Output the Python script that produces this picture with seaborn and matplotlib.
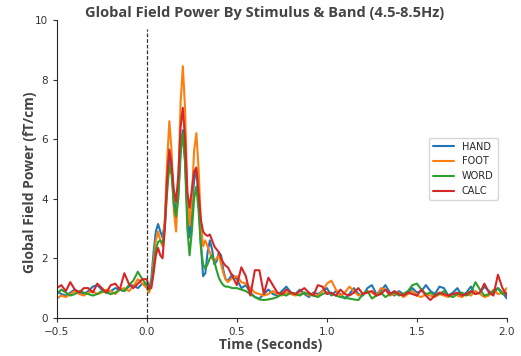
import numpy as np
import pandas as pd
import matplotlib
matplotlib.use("Agg")
import matplotlib.pyplot as plt
import seaborn as sb

# time axis: coarse before/after, finer around the evoked peaks
time = np.concatenate([np.arange(-0.5, -0.001, 0.025),
                       np.arange(0.0, 0.449, 0.0125),
                       np.arange(0.45, 2.001, 0.025)])

stimuli = ["HAND", "FOOT", "WORD", "CALC"]

hand = [0.9, 0.8, 0.75, 0.85, 0.95, 0.85, 0.8, 0.9, 1.05, 1.1,
        0.95, 0.85, 0.9, 1.0, 0.95, 0.9, 1.05, 1.1, 1.0, 1.15,
        1.1, 0.95, 1.3, 2.2, 2.9, 3.15, 2.9, 2.7, 3.2, 4.5,
        5.5, 5.0, 4.0, 3.6, 4.2, 5.6, 6.3, 5.3, 3.5, 2.7,
        3.5, 4.6, 5.0, 4.0, 2.5, 1.4, 1.5, 2.2, 2.6, 2.3,
        1.8, 1.9, 2.2, 2.1, 1.6, 1.3,
        1.25, 1.45, 1.3, 1.0, 1.1, 0.85, 0.7, 0.65, 0.8, 0.95,
        0.8, 0.75, 0.9, 1.05, 0.85, 0.8, 0.95, 0.8, 0.7, 0.85,
        0.8, 0.9, 1.0, 0.75, 0.9, 0.8, 0.65, 0.8, 1.0, 0.8,
        0.75, 1.0, 1.1, 0.8, 0.9, 1.1, 0.85, 0.75, 0.9, 0.8,
        0.85, 1.0, 0.85, 0.9, 1.1, 0.9, 0.8, 1.05, 1.0, 0.75,
        0.85, 1.0, 0.75, 0.85, 1.05, 0.8, 0.85, 1.05, 0.9, 0.8,
        1.0, 0.85, 0.65]

foot = [0.65, 0.75, 0.7, 0.8, 0.9, 0.8, 0.75, 0.85, 0.9, 0.8,
        0.85, 0.95, 0.9, 0.8, 0.95, 1.0, 0.9, 1.05, 1.3, 1.15,
        1.0, 0.85, 1.1, 1.9, 2.6, 2.9, 2.6, 2.4, 3.3, 5.2,
        6.6, 5.6, 3.6, 2.9, 4.5, 7.2, 8.45, 7.0, 4.2, 3.1,
        4.0, 5.6, 6.2, 5.0, 3.2, 2.4, 2.6, 2.4, 2.2, 2.0,
        1.9, 2.0, 2.1, 1.8, 1.5, 1.3,
        1.2, 1.35, 1.4, 1.2, 1.15, 1.0, 0.85, 0.8, 0.75, 0.8,
        0.9, 0.8, 0.75, 0.85, 0.8, 0.75, 0.8, 0.85, 0.75, 0.8,
        0.75, 0.9, 1.15, 1.25, 0.95, 0.75, 0.85, 1.05, 0.9, 0.75,
        0.8, 0.9, 0.85, 0.75, 1.0, 0.95, 0.75, 0.8, 0.85, 0.7,
        0.8, 0.9, 0.75, 0.7, 0.8, 0.75, 0.7, 0.8, 0.75, 0.7,
        0.8, 0.75, 0.7, 0.8, 0.75, 0.9, 0.8, 0.7, 0.75, 0.95,
        0.8, 0.85, 1.0]

word = [0.8, 0.95, 0.85, 0.75, 0.8, 0.9, 0.85, 0.8, 0.75, 0.8,
        0.9, 0.85, 0.8, 0.85, 0.95, 0.9, 1.1, 1.25, 1.55, 1.3,
        1.1, 0.95, 1.1, 1.7, 2.3, 2.55, 2.6, 2.5, 3.0, 4.2,
        5.1, 4.8, 3.8, 3.4, 4.0, 5.5, 6.2, 5.2, 3.0, 2.1,
        2.9, 4.0, 4.4, 3.6, 2.4, 1.8, 1.65, 1.8, 2.0, 2.1,
        1.9, 1.6, 1.35, 1.2, 1.1, 1.05,
        1.05, 1.0, 1.0, 0.95, 0.9, 0.8, 0.7, 0.62, 0.6, 0.62,
        0.65, 0.7, 0.8, 0.75, 0.85, 0.8, 0.75, 0.85, 0.8, 0.75,
        0.7, 0.8, 0.85, 0.8, 0.75, 0.7, 0.68, 0.65, 0.62, 0.6,
        0.8, 0.9, 0.65, 0.75, 0.85, 0.7, 0.8, 0.85, 0.75, 0.8,
        0.9, 1.1, 1.15, 0.95, 0.8, 0.85, 0.75, 0.8, 0.9, 0.75,
        0.7, 0.8, 0.85, 0.75, 0.85, 1.2, 0.95, 0.75, 0.8, 0.9,
        1.0, 0.8, 0.85]

calc = [1.0, 1.1, 0.9, 1.2, 0.95, 0.85, 1.0, 1.0, 0.85, 1.15,
        1.0, 0.85, 1.1, 1.15, 0.95, 1.5, 1.15, 1.0, 1.15, 1.3,
        1.3, 1.0, 1.0, 1.5, 2.1, 2.35, 2.1, 2.0, 3.0, 4.7,
        5.65, 5.2, 4.3, 3.9, 4.8, 6.4, 7.05, 6.0, 4.2, 3.7,
        4.3, 4.9, 5.05, 4.2, 3.3, 2.9, 2.8, 2.75, 2.8, 2.6,
        2.4, 2.3, 2.2, 2.0, 1.85, 1.75,
        1.7, 1.4, 1.1, 1.7, 1.4, 0.75, 1.6, 1.6, 0.8, 1.35,
        1.1, 0.85, 0.8, 0.95, 0.85, 0.8, 0.9, 1.0, 0.85, 0.75,
        1.1, 1.05, 0.8, 0.85, 0.75, 0.95, 0.8, 0.75, 0.85, 1.0,
        0.8, 0.85, 0.9, 0.75, 0.8, 0.95, 0.8, 0.9, 0.8, 0.75,
        0.85, 0.8, 0.75, 0.95, 0.75, 0.6, 0.75, 0.85, 0.8, 0.75,
        0.8, 0.85, 0.75, 0.8, 0.9, 0.8, 0.85, 1.15, 0.85, 0.75,
        1.45, 1.0, 0.75]

series = [hand, foot, word, calc]
frames = []
for name, vals in zip(stimuli, series):
    frames.append(pd.DataFrame({"time": time, "gfp": vals, "stimulus": name}))
df = pd.concat(frames, ignore_index=True)

sb.set_style("ticks")
plt.rcParams['font.family'] = ['DejaVu Sans']

fig = plt.figure(figsize=(5.21, 3.56), dpi=100)
ax = fig.add_axes([0.109, 0.107, 0.864, 0.837])

sb.lineplot(data=df, x="time", y="gfp", hue="stimulus", hue_order=stimuli,
            palette="tab10", linewidth=1.5, ax=ax)
ax.axvline(0, ymax=0.97, color="#333333", linestyle=(0, (3, 1.5)), linewidth=0.9)

ax.set_xlim(-0.5, 2.0)
ax.set_ylim(0, 10)
ax.set_xticks([-0.5, 0.0, 0.5, 1.0, 1.5, 2.0])
ax.set_yticks([0, 2, 4, 6, 8, 10])
ax.tick_params(labelsize=7.5, colors="#333333", length=3)
sb.despine(ax=ax)

ax.set_xlabel("Time (Seconds)", fontsize=10, fontweight="bold", color="#444444",
              family="Open Sans")
ax.xaxis.set_label_coords(0.475, -0.068)
ax.set_ylabel("Global Field Power (fT/cm)", fontsize=10, fontweight="bold",
              color="#444444", family="Open Sans")
ax.yaxis.set_label_coords(-0.045, 0.455)
ax.set_title("Global Field Power By Stimulus & Band (4.5-8.5Hz)", fontsize=10.5,
             fontweight="bold", color="#444444", family="Open Sans", pad=2, x=0.462)

leg = ax.legend(loc="center right", bbox_to_anchor=(0.99, 0.5), fontsize=7,
                frameon=True, handlelength=2.2)
leg.get_frame().set_edgecolor("#cccccc")

fig.savefig("out.png", dpi=100)
